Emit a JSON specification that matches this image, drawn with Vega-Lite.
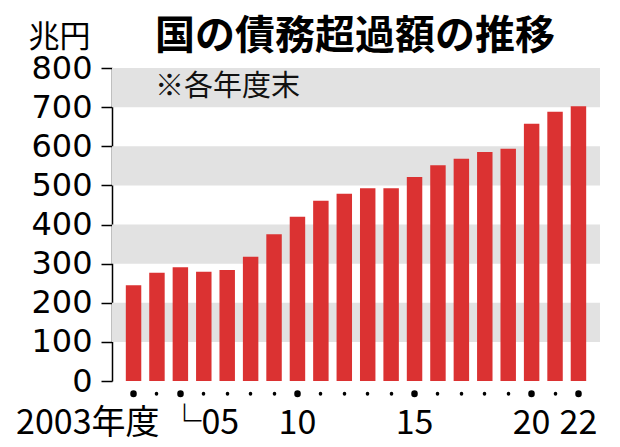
{
  "$schema": "https://vega.github.io/schema/vega-lite/v6.json",
  "width": 488,
  "height": 313,
  "autosize": "none",
  "padding": {"left": 112, "top": 68, "right": 20, "bottom": 66},
  "background": "white",
  "title": {
    "text": "国の債務超過額の推移",
    "subtitle": "※各年度末",
    "anchor": "start",
    "frame": "group",
    "dx": 43,
    "offset": -81,
    "font": "Noto Sans CJK JP",
    "fontSize": 40,
    "fontWeight": "bold",
    "color": "#000000",
    "subtitleFont": "Noto Sans CJK JP",
    "subtitleFontSize": 29,
    "subtitleColor": "#111111",
    "subtitlePadding": 16
  },
  "config": {"view": {"stroke": null}, "axis": {"labelOverlap": false}},
  "layer": [
    {
      "data": {"values": [
        {"lo": 100, "hi": 200},
        {"lo": 300, "hi": 400},
        {"lo": 500, "hi": 600},
        {"lo": 700, "hi": 800}
      ]},
      "mark": {"type": "rect", "color": "#e2e2e2"},
      "encoding": {
        "y": {
          "field": "lo",
          "type": "quantitative",
          "scale": {"domain": [0, 800], "nice": false},
          "axis": {
            "values": [0, 100, 200, 300, 400, 500, 600, 700, 800],
            "grid": false,
            "domain": true,
            "domainColor": "#000000",
            "domainWidth": 1.5,
            "tickColor": "#000000",
            "tickWidth": 1.5,
            "tickSize": 11,
            "labelFont": "DejaVu Sans",
            "labelFontSize": 32,
            "labelColor": "#000000",
            "labelPadding": 9,
            "labelOverlap": false,
            "labelSeparation": -10,
            "labelBaseline": "middle",
            "title": "兆円",
            "titleAngle": 0,
            "titleX": -84,
            "titleY": -31,
            "titleAlign": "left",
            "titleBaseline": "middle",
            "titleFont": "Noto Sans CJK JP",
            "titleFontSize": 31,
            "titleFontWeight": "normal",
            "titleColor": "#000000"
          }
        },
        "y2": {"field": "hi"}
      }
    },
    {
      "data": {"values": [
        {"year": 2003, "value": 244.6},
        {"year": 2004, "value": 276.8},
        {"year": 2005, "value": 290.6},
        {"year": 2006, "value": 279.4},
        {"year": 2007, "value": 283.7},
        {"year": 2008, "value": 317.7},
        {"year": 2009, "value": 374.9},
        {"year": 2010, "value": 419.9},
        {"year": 2011, "value": 460.8},
        {"year": 2012, "value": 478.7},
        {"year": 2013, "value": 492.5},
        {"year": 2014, "value": 492.5},
        {"year": 2015, "value": 521.4},
        {"year": 2016, "value": 551.3},
        {"year": 2017, "value": 568.2},
        {"year": 2018, "value": 585.3},
        {"year": 2019, "value": 593.9},
        {"year": 2020, "value": 657.6},
        {"year": 2021, "value": 688.3},
        {"year": 2022, "value": 702.1}
      ]},
      "mark": {"type": "bar", "color": "#db3232"},
      "encoding": {
        "x": {
          "field": "year",
          "type": "ordinal",
          "scale": {"paddingInner": 0.34, "paddingOuter": 0.59},
          "axis": {
            "title": null,
            "domain": false,
            "offset": 12,
            "tickCap": "round",
            "tickSize": 0.5,
            "tickColor": "#000000",
            "tickWidth": {
              "condition": {"test": "indexof([2003,2005,2010,2015,2020,2022], datum.value) >= 0", "value": 6.5},
              "value": 3.5
            },
            "labelExpr": "datum.value == 2003 ? '2003年度' : datum.value == 2005 ? '└05' : indexof([2010,2015,2020,2022], datum.value) >= 0 ? slice(toString(datum.value), 2) : ''",
            "labelAngle": 0,
            "labelFont": "Liberation Sans Narrow, Noto Sans CJK JP, sans-serif",
            "labelFontSize": 34,
            "labelColor": "#000000",
            "labelBaseline": "alphabetic",
            "labelPadding": 39.5,
            "labelOverlap": false,
            "labelFlush": false,
            "labelBound": false,
            "labelAlign": {
              "condition": [
                {"test": "datum.value == 2003", "value": "right"},
                {"test": "datum.value == 2005", "value": "left"}
              ],
              "value": "center"
            },
            "labelOffset": {
              "condition": [
                {"test": "datum.value == 2003", "value": 26},
                {"test": "datum.value == 2005", "value": -13}
              ],
              "value": 0
            }
          }
        },
        "y": {
          "field": "value",
          "type": "quantitative",
          "scale": {"domain": [0, 800], "nice": false},
          "axis": {
            "values": [0, 100, 200, 300, 400, 500, 600, 700, 800],
            "grid": false,
            "domain": true,
            "domainColor": "#000000",
            "domainWidth": 1.5,
            "tickColor": "#000000",
            "tickWidth": 1.5,
            "tickSize": 11,
            "labelFont": "DejaVu Sans",
            "labelFontSize": 32,
            "labelColor": "#000000",
            "labelPadding": 9,
            "labelOverlap": false,
            "labelSeparation": -10,
            "labelBaseline": "middle",
            "title": "兆円",
            "titleAngle": 0,
            "titleX": -84,
            "titleY": -31,
            "titleAlign": "left",
            "titleBaseline": "middle",
            "titleFont": "Noto Sans CJK JP",
            "titleFontSize": 31,
            "titleFontWeight": "normal",
            "titleColor": "#000000"
          }
        }
      }
    }
  ]
}
